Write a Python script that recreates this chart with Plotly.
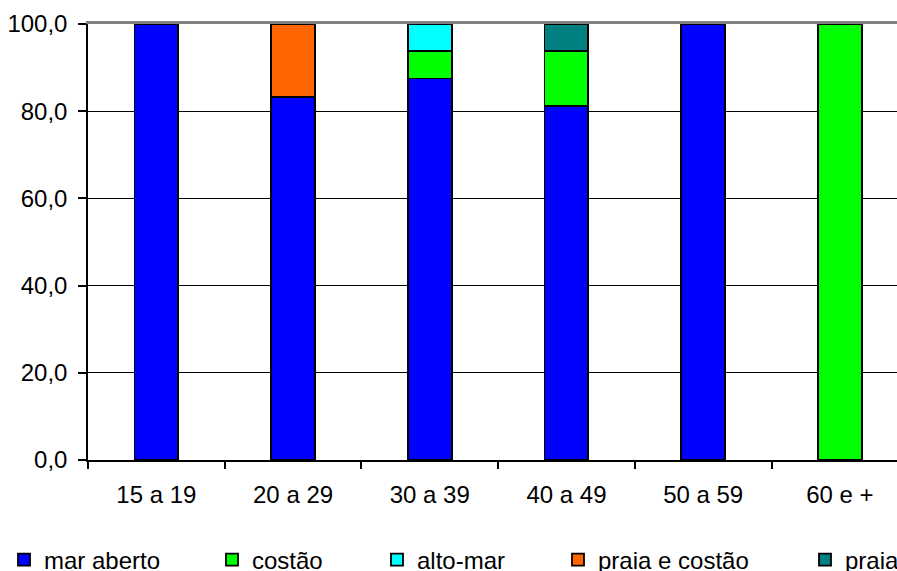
import plotly.graph_objects as go

categories = ["15 a 19", "20 a 29", "30 a 39", "40 a 49", "50 a 59", "60 e +"]
mar_aberto = [100.0, 83.3, 87.5, 81.25, 100.0, 0.0]
costao = [0.0, 0.0, 6.25, 12.5, 0.0, 100.0]
alto_mar = [0.0, 0.0, 6.25, 0.0, 0.0, 0.0]
praia_e_costao = [0.0, 16.7, 0.0, 0.0, 0.0, 0.0]
praia = [0.0, 0.0, 0.0, 6.25, 0.0, 0.0]

series = [
    ("mar aberto", mar_aberto, "#0000FF"),
    ("costão", costao, "#00FF00"),
    ("alto-mar", alto_mar, "#00FFFF"),
    ("praia e costão", praia_e_costao, "#FF6600"),
    ("praia", praia, "#008080"),
]

W, H = 897, 571
L, T, B = 88, 24, 111
legend_text_px = [44, 252, 417, 598, 845]

fig = go.Figure()
font = dict(family="Liberation Sans, Arial, sans-serif", size=24, color="#000000")
layout_legends = {}
for i, (name, vals, col) in enumerate(series):
    key = "legend" if i == 0 else f"legend{i+1}"
    fig.add_trace(go.Bar(
        x=categories, y=vals, name=name, legend=key,
        marker=dict(color=col, line=dict(color="#000000", width=1.8)),
        hoverinfo="skip",
    ))
    layout_legends[key] = dict(
        x=(legend_text_px[i] - 40 - L) / (W - L), y=-(560 - (H - B)) / (H - B - T),
        xanchor="left", yanchor="middle", orientation="h",
        font=font, bgcolor="rgba(0,0,0,0)", borderwidth=0,
        tracegroupgap=0, itemwidth=30,
    )

fig.update_layout(
    width=W, height=H,
    margin=dict(l=L, r=0, t=T, b=B, autoexpand=False),
    barmode="stack", bargap=0.68,
    plot_bgcolor="white", paper_bgcolor="white",
    separators=",.",
    font=font,
    showlegend=True,
    **layout_legends,
)
fig.update_xaxes(
    type="category", range=[-0.5, 5.418], automargin=False,
    showline=True, linecolor="black", linewidth=1.5,
    ticks="outside", tickson="boundaries", ticklen=7, tickcolor="black", tickwidth=1.5,
    showgrid=False, ticklabelstandoff=12,
)
fig.update_yaxes(
    range=[0, 100], tickvals=[0, 20, 40, 60, 80, 100], tickformat=".1f", automargin=False,
    showline=True, linecolor="black", linewidth=1.5,
    ticks="outside", ticklen=8, tickcolor="black", tickwidth=1.5,
    showgrid=True, gridcolor="black", gridwidth=1.3, zeroline=False,
    ticklabelstandoff=6,
)
# grey top border
fig.update_layout(xaxis2=dict(overlaying="x", side="top", showline=True, linecolor="#808080",
                              linewidth=2.5, showticklabels=False, ticks="", showgrid=False,
                              range=[0, 1], zeroline=False, automargin=False))
fig.add_trace(go.Scatter(x=[None], y=[None], xaxis="x2", showlegend=False, hoverinfo="skip"))

fig.write_html("out.html", config={"displayModeBar": False},
               post_script="document.body.style.margin='0';document.body.style.overflow='hidden';")
